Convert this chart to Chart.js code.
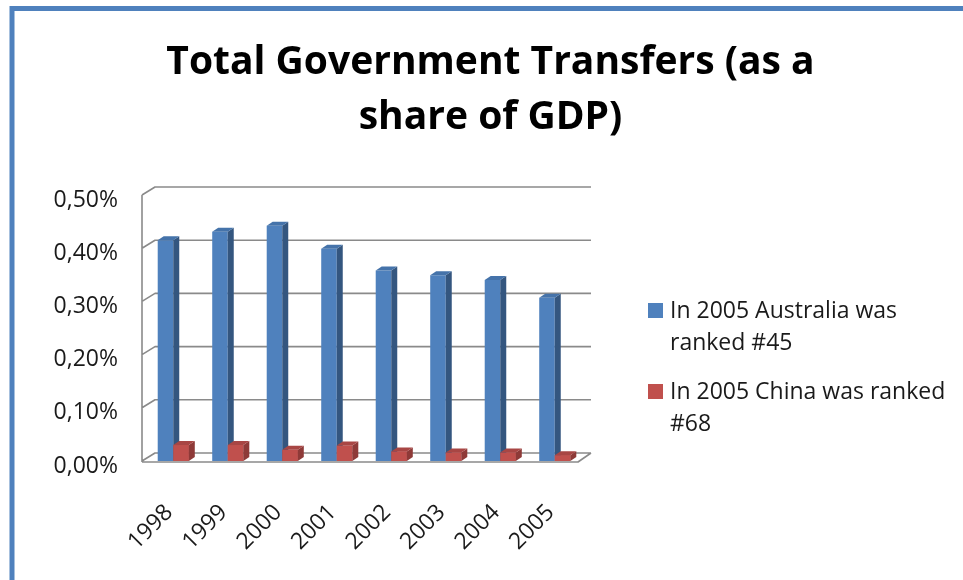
<!DOCTYPE html>
<html>
<head>
<meta charset="utf-8">
<style>
  html, body { margin: 0; padding: 0; background: #fff; }
  #wrap { position: relative; width: 963px; height: 580px; }
</style>
<script src="https://cdn.jsdelivr.net/npm/chart.js@4.4.1/dist/chart.umd.min.js"></script>
</head>
<body>
<div id="wrap"><canvas id="transfers-chart" width="963" height="580"></canvas></div>
<script>
// Total government transfers, % of GDP
const years = ['1998', '1999', '2000', '2001', '2002', '2003', '2004', '2005'];
const australia = [0.415, 0.431, 0.442, 0.399, 0.358, 0.349, 0.340, 0.307];
const china = [0.030, 0.030, 0.021, 0.029, 0.018, 0.016, 0.016, 0.011];
const yTicks = [0, 0.1, 0.2, 0.3, 0.4, 0.5];
const seriesNames = ['In 2005 Australia was ranked #45', 'In 2005 China was ranked #68'];
const legendLines = [['In 2005 Australia was', 'ranked #45'], ['In 2005 China was ranked', '#68']];
const titleLines = ['Total Government Transfers (as a', 'share of GDP)'];

const FONT = "'Open Sans', sans-serif";
const GRID = '#8a8a8a';
const WALL_DX = 13, WALL_DY = -8;   // depth of the back wall
const BAR_DX = 6, BAR_DY = -4;      // depth of each column
const BAR_SHIFT = 4;

const faceColors = ['#4F81BD', '#C0504D'];
const sideColors = ['#34567F', '#8E3A38'];
const topColors = ['#4573AA', '#A84644'];

const fmtPct = v => v.toFixed(2).replace('.', ',') + '%';

// outer blue frame
const framePlugin = {
  id: 'frame',
  beforeDraw(chart) {
    const ctx = chart.ctx;
    ctx.save();
    ctx.fillStyle = '#fff';
    ctx.fillRect(0, 0, chart.width, chart.height);
    ctx.strokeStyle = '#4F81BD';
    ctx.lineWidth = 5;
    ctx.strokeRect(12, 8.5, chart.width + 50, chart.height + 50);
    ctx.restore();
  }
};

function drawDepth(ctx, bar, i) {
  const p = bar.getProps(['x', 'y', 'base', 'width'], true);
  const l = p.x - p.width / 2, r = p.x + p.width / 2;
  ctx.fillStyle = sideColors[i];
  ctx.beginPath();
  ctx.moveTo(r, p.y);
  ctx.lineTo(r + BAR_DX, p.y + BAR_DY);
  ctx.lineTo(r + BAR_DX, p.base + BAR_DY);
  ctx.lineTo(r, p.base);
  ctx.closePath();
  ctx.fill();
  ctx.fillStyle = topColors[i];
  ctx.beginPath();
  ctx.moveTo(l, p.y);
  ctx.lineTo(l + BAR_DX, p.y + BAR_DY);
  ctx.lineTo(r + BAR_DX, p.y + BAR_DY);
  ctx.lineTo(r, p.y);
  ctx.closePath();
  ctx.fill();
}

// walls, floor and the 3d look of the columns
const depthPlugin = {
  id: 'depth',
  beforeDatasetsDraw(chart) {
    const ctx = chart.ctx;
    const a = chart.chartArea;
    const y = chart.scales.y;
    const y0 = y.getPixelForValue(0);
    const yTop = y.getPixelForValue(yTicks[yTicks.length - 1]);
    ctx.save();
    ctx.strokeStyle = GRID;
    ctx.lineWidth = 1.6;
    ctx.lineJoin = 'round';
    ctx.beginPath();
    yTicks.forEach(v => {
      const py = y.getPixelForValue(v);
      ctx.moveTo(a.left, py);
      ctx.lineTo(a.left + WALL_DX, py + WALL_DY);
      ctx.lineTo(a.right + WALL_DX, py + WALL_DY);
    });
    // floor
    ctx.moveTo(a.left, y0 + 1);
    ctx.lineTo(a.right, y0 + 1);
    ctx.lineTo(a.right + WALL_DX, y0 + WALL_DY);
    // front edge of the side wall
    ctx.moveTo(a.left, yTop);
    ctx.lineTo(a.left, y0 + 1);
    ctx.stroke();
    ctx.restore();

    ctx.save();
    ctx.translate(BAR_SHIFT, 0);
  },
  afterDatasetsDraw(chart) {
    const ctx = chart.ctx;
    const metas = [chart.getDatasetMeta(0), chart.getDatasetMeta(1)];
    // per year: blue sides first, then the red column in front of them
    years.forEach((_, j) => {
      drawDepth(ctx, metas[0].data[j], 0);
      metas[1].data[j].draw(ctx);
      drawDepth(ctx, metas[1].data[j], 1);
    });
    ctx.restore();
  }
};

// two-line legend on the right
const sideLegendPlugin = {
  id: 'sideLegend',
  afterDraw(chart) {
    const ctx = chart.ctx;
    ctx.save();
    ctx.font = '23px ' + FONT;
    ctx.textBaseline = 'alphabetic';
    const starts = [318, 399];
    legendLines.forEach((lines, i) => {
      const by = starts[i];
      ctx.fillStyle = faceColors[i];
      ctx.fillRect(648, by - 15, 15, 15);
      ctx.fillStyle = '#1a1a1a';
      lines.forEach((t, k) => ctx.fillText(t, 670, by + k * 32));
    });
    ctx.restore();
  }
};

new Chart(document.getElementById('transfers-chart'), {
  type: 'bar',
  data: {
    labels: years,
    datasets: [
      {
        label: seriesNames[0],
        data: australia,
        backgroundColor: faceColors[0],
        categoryPercentage: 0.57,
        barPercentage: 1.0,
      },
      {
        label: seriesNames[1],
        data: china,
        backgroundColor: faceColors[1],
        categoryPercentage: 0.57,
        barPercentage: 1.0,
      },
    ]
  },
  options: {
    responsive: false,
    animation: false,
    layout: { padding: { left: 18, right: 0, top: 0, bottom: 0 } },
    scales: {
      x: {
        grid: { display: false },
        border: { display: false },
        ticks: {
          minRotation: 45,
          maxRotation: 45,
          padding: 30,
          color: '#1a1a1a',
          font: { family: FONT, size: 23 },
        },
        afterFit: s => { s.height = 580 - 461; },
      },
      y: {
        min: 0,
        max: 0.5,
        grid: { display: false },
        border: { display: false },
        ticks: {
          stepSize: 0.1,
          padding: 16,
          labelOffset: 5,
          color: '#1a1a1a',
          font: { family: FONT, size: 23 },
          callback: v => fmtPct(v),
        },
        afterFit: s => { s.width = 142 - 18; },
      },
      // empty axis that keeps room for the legend
      spacer: {
        position: 'right',
        display: true,
        grid: { display: false },
        border: { display: false },
        ticks: { display: false },
        afterFit: s => { s.width = 963 - 578; },
      },
    },
    plugins: {
      legend: { display: false },
      tooltip: { enabled: false },
      title: {
        display: true,
        text: titleLines,
        color: '#000',
        font: { family: FONT, size: 39, weight: 'bold', lineHeight: 55 / 39 },
        padding: { top: 35, bottom: 195 - 35 - 110 },
      },
    },
  },
  plugins: [framePlugin, depthPlugin, sideLegendPlugin]
});
</script>
</body>
</html>
